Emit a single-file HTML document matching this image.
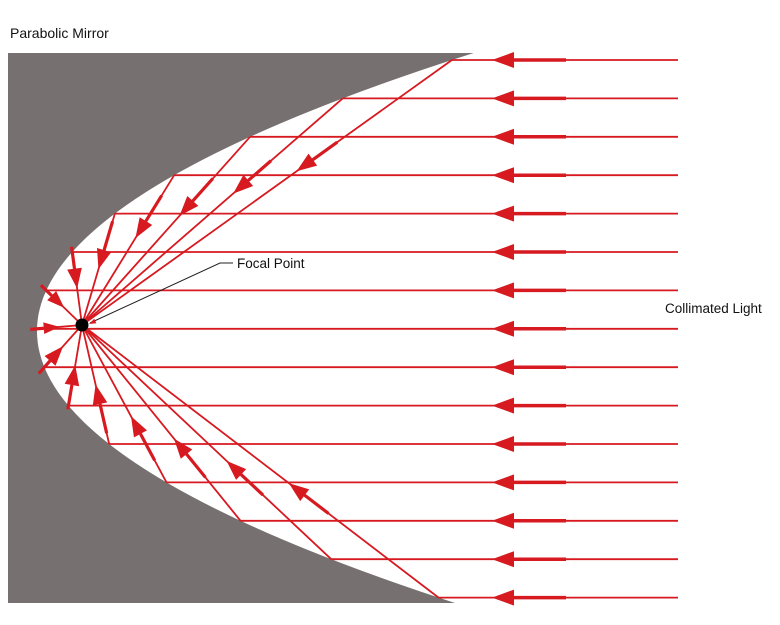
<!DOCTYPE html>
<html><head><meta charset="utf-8"><style>
html,body{margin:0;padding:0;background:#fff;}
svg{display:block;}
text{font-family:"Liberation Sans",sans-serif;font-size:13.5px;fill:#111;}
</style></head><body>
<svg id="s" width="780" height="625" viewBox="0 0 780 625" xmlns="http://www.w3.org/2000/svg">
<text x="10" y="38" style="font-size:14px">Parabolic Mirror</text>
<text x="237" y="268">Focal Point</text>
<text x="665" y="313">Collimated Light</text>
</svg>
<script>
var s=document.getElementById('s'),NS='http://www.w3.org/2000/svg';
function el(n,a){var e=document.createElementNS(NS,n);for(var k in a)e.setAttribute(k,a[k]);s.insertBefore(e,s.querySelector('text'));return e;}
var V=37,K=0.00565,YC=331,FX=82,FY=325,RED='#d71920';
function px(y){return V+K*(y-YC)*(y-YC);}
var d='M8,53 L'+px(53)+',53 ';
for(var y=53;y<=603;y+=2)d+='L'+px(y).toFixed(1)+','+y+' ';
d+='L8,603 Z';
el('path',{d:d,fill:'#767170'});
function arrow(x,y,ux,uy,len,hw){
  var bx=x-ux*len,by=y-uy*len,nx=-uy,ny=ux;
  el('polygon',{points:x+','+y+' '+(bx+nx*hw)+','+(by+ny*hw)+' '+(bx-nx*hw)+','+(by-ny*hw),fill:RED});
}
for(var i=0;i<15;i++){
  var y=60+i*38.4,hx=px(y);
  el('line',{x1:hx,y1:y,x2:678,y2:y,stroke:RED,'stroke-width':1.8});
  el('line',{x1:513,y1:y,x2:566,y2:y,stroke:RED,'stroke-width':3.5});
  arrow(492,y,-1,0,22,8);
  el('line',{x1:hx,y1:y,x2:FX,y2:FY,stroke:RED,'stroke-width':1.8});
  var dx=FX-hx,dy=FY-y,L=Math.sqrt(dx*dx+dy*dy);
  if(L>10){
    var ux=dx/L,uy=dy/L,t=L>150?0.42:0.5;
    var tx=hx+dx*t,ty=y+dy*t;
    var al=Math.min(20,L*0.35),hw=Math.min(7.5,al*0.37);
    arrow(tx,ty,ux,uy,al,hw);
    var sl=Math.min(30,L*0.3);
    el('line',{x1:tx-ux*al,y1:ty-uy*al,x2:tx-ux*(al+sl),y2:ty-uy*(al+sl),stroke:RED,'stroke-width':3.2});
  }
}
el('circle',{cx:FX,cy:FY,r:6.5,fill:'#000'});
el('polyline',{points:'233,263 220,263 90,323',fill:'none',stroke:'#222','stroke-width':1});
arrow(89,324,-0.9,0.42,7,2.5);
</script>
</body></html>
